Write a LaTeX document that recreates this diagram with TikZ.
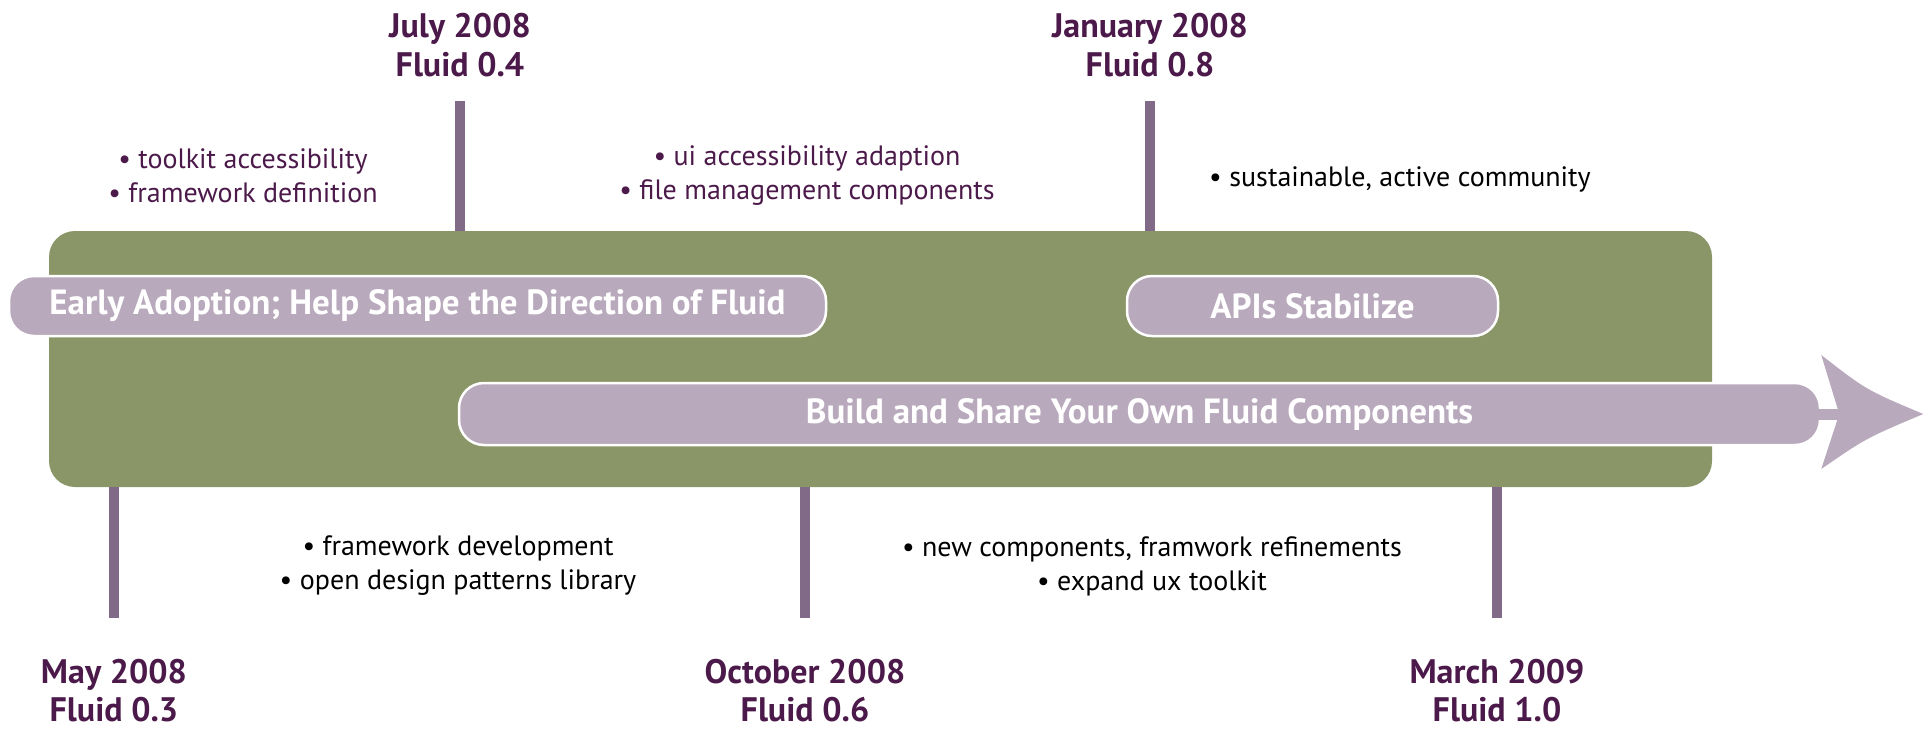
\documentclass[tikz,border=0pt]{standalone}
\usepackage{fontspec}
\setmainfont{PT Sans}
\usepackage{tikz}
\usetikzlibrary{positioning,calc}

\definecolor{trackgreen}{RGB}{138,150,104}
\definecolor{phaselilac}{RGB}{184,169,188}
\definecolor{stemviolet}{RGB}{128,106,136}
\definecolor{plum}{RGB}{76,26,74}

\begin{document}
\begin{tikzpicture}[x=1pt,y=-1pt,
    stem/.style={draw=stemviolet, line width=10pt},
    release/.style={text=plum, align=center, inner sep=0pt, font=\fontsize{34}{38.5}\selectfont\bfseries},
    notes/.style={align=center, inner sep=0pt, font=\fontsize{28}{34}\selectfont},
    phase/.style={fill=phaselilac, draw=white, line width=2.5pt, rounded corners=25pt,
        minimum height=60pt, inner sep=0pt, text=white, font=\fontsize{35}{38}\selectfont\bfseries}]
    \useasboundingbox (0,0) rectangle (1925,729);

    % green band
    \node [fill=trackgreen, rounded corners=26pt, minimum width=1663pt, minimum height=256pt, inner sep=0pt] (track) at (880.5,359) {};

    % milestones above the band
    \coordinate (m04) at (460,101);
    \coordinate (m08) at (1150,101);
    \draw [stem] (m04) -- (m04 |- track.north);
    \draw [stem] (m08) -- (m08 |- track.north);
    \node [release, above=24pt of m04] (r04) {July 2008\\Fluid 0.4};
    \node [release, above=24pt of m08] (r08) {January 2008\\Fluid 0.8};

    % milestones below the band
    \coordinate (m03) at (114,618);
    \coordinate (m06) at (805,618);
    \coordinate (m10) at (1497,618);
    \draw [stem] (m03) -- (m03 |- track.south);
    \draw [stem] (m06) -- (m06 |- track.south);
    \draw [stem] (m10) -- (m10 |- track.south);
    \node [release, below=41pt of m03] (r03) {May 2008\\Fluid 0.3};
    \node [release, below=41pt of m06] (r06) {October 2008\\Fluid 0.6};
    \node [release, below=41pt of m10] (r10) {March 2009\\Fluid 1.0};

    % goals
    \node [notes, text=plum] (n1) at (243,175.5) {• toolkit accessibility\\• framework definition};
    \node [notes, text=plum] (n2) at (807,175.5) {• ui accessibility adaption\\• file management components};
    \node [notes, text=black, anchor=west] (n3) at (1209,179.5) {• sustainable, active community};
    \node [notes, text=black] (n4) at (458,566) {• framework development\\• open design patterns library};
    \node [notes, text=black] (n5) at (1152,566) {• new components, framwork refinements\\• expand ux toolkit};

    % phases
    \node [phase, minimum width=817pt] (early) at (417.5,306) {Early Adoption; Help Shape the Direction of Fluid};
    \node [phase, minimum width=371pt] (apis) at (1312.5,306) {APIs Stabilize};
    \node [phase, minimum width=1361pt, minimum height=62pt] (build) at (1139.5,414) {Build and Share Your Own Fluid Components};

    % arrow head
    \fill [phaselilac] ($(build.east)+(-8,-5.5)$) rectangle ($(build.east)+(20,5.5)$);
    \fill [phaselilac] ($(build.east)+(0,-59)$) .. controls ($(build.east)+(45,-24)$) .. ($(build.east)+(102,0)$)
        .. controls ($(build.east)+(45,24)$) .. ($(build.east)+(0,55)$) -- ($(build.east)+(18,0)$) -- cycle;
\end{tikzpicture}
\end{document}
